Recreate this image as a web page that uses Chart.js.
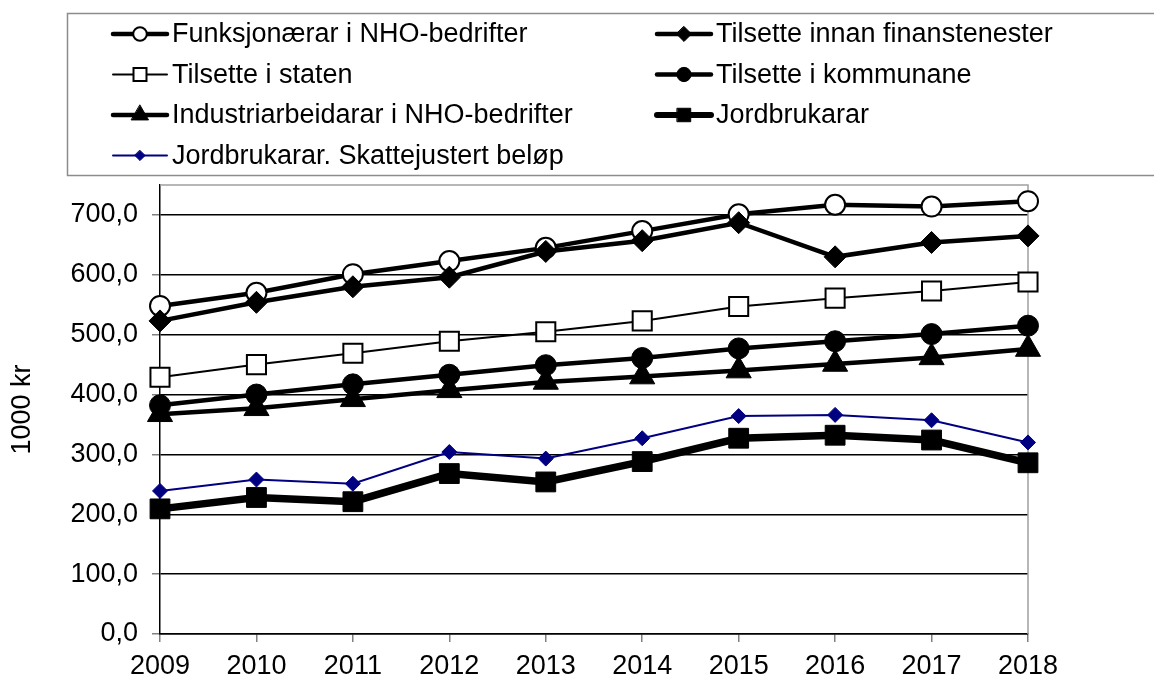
<!DOCTYPE html>
<html>
<head>
<meta charset="utf-8">
<script src="https://cdn.jsdelivr.net/npm/chart.js@4/dist/chart.umd.min.js"></script>
<style>
html,body{margin:0;padding:0;background:#fff;}
#wrap{position:relative;width:1154px;height:680px;}
</style>
</head>
<body>
<div id="wrap"><canvas id="lonnChart" width="1154" height="680"></canvas></div>
<script>
// data (1000 kr)
const years = ["2009","2010","2011","2012","2013","2014","2015","2016","2017","2018"];
const funksjonaerar = [548,570,601,623,645,673,701,717,714,723];
const finans = [523,554,580,596,639,657,687,630,654,665];
const staten = [429,450,469,489,505,523,547,561,573,588];
const kommunane = [382,400,417,433,449,461,477,489,501,515];
const industri = [367,377,392,407,421,430,440,451,462,476];
const jordbruk = [209,228,221,268,254,288,327,332,324,286];
const jordbrukSkatt = [239,258,251,304,293,327,364,366,357,320];
const yTicks = [0,100,200,300,400,500,600,700];

const FONT = "'Liberation Sans', Arial, sans-serif";
const FS = 27;

function series(label, data, o) {
  return {
    label: label,
    data: data,
    borderColor: o.color || "#000",
    borderWidth: o.lw,
    pointStyle: o.style,
    pointRadius: o.r,
    pointHoverRadius: o.r,
    pointBackgroundColor: o.fill,
    pointBorderColor: o.color || "#000",
    pointBorderWidth: o.bw,
    tension: 0,
    clip: false,
    fill: false
  };
}

const datasets = [
  series("Funksjonærar i NHO-bedrifter", funksjonaerar, {lw: 4.5, style: "circle", r: 10, fill: "#fff", bw: 2}),
  series("Tilsette innan finanstenester", finans, {lw: 4.5, style: "rectRot", r: 11, fill: "#000", bw: 1}),
  series("Tilsette i staten", staten, {lw: 2, style: "rect", r: 13.5, fill: "#fff", bw: 2}),
  series("Tilsette i kommunane", kommunane, {lw: 4.5, style: "circle", r: 10.5, fill: "#000", bw: 1}),
  series("Industriarbeidarar i NHO-bedrifter", industri, {lw: 4.5, style: "triangle", r: 14.5, fill: "#000", bw: 1}),
  series("Jordbrukarar", jordbruk, {lw: 7.5, style: "rect", r: 14, fill: "#000", bw: 1}),
  series("Jordbrukarar. Skattejustert beløp", jordbrukSkatt, {lw: 2, style: "rectRot", r: 7.5, fill: "#000080", bw: 1, color: "#000080"})
];
// later series on top, like the original
datasets.forEach((d, i) => { d.order = datasets.length - i; });

function drawMarker(ctx, style, x, y, r, fill, stroke, bw) {
  ctx.beginPath();
  if (style === "circle") {
    ctx.arc(x, y, r, 0, Math.PI * 2);
  } else if (style === "rect") {
    const s = r * Math.SQRT1_2;
    ctx.rect(x - s, y - s, 2 * s, 2 * s);
  } else if (style === "rectRot") {
    ctx.moveTo(x, y - r); ctx.lineTo(x + r, y); ctx.lineTo(x, y + r); ctx.lineTo(x - r, y);
    ctx.closePath();
  } else if (style === "triangle") {
    ctx.moveTo(x, y - r);
    ctx.lineTo(x + r * Math.sin(Math.PI * 2 / 3), y - r * Math.cos(Math.PI * 2 / 3));
    ctx.lineTo(x + r * Math.sin(Math.PI * 4 / 3), y - r * Math.cos(Math.PI * 4 / 3));
    ctx.closePath();
  }
  ctx.fillStyle = fill;
  ctx.fill();
  if (bw) { ctx.lineWidth = bw; ctx.strokeStyle = stroke; ctx.stroke(); }
}

// two-column legend in a grey box above the plot
const legendBox = {
  id: "legendBox",
  afterDraw(chart) {
    const ctx = chart.ctx;
    ctx.save();
    ctx.strokeStyle = "#8c8c8c";
    ctx.lineWidth = 1.5;
    ctx.strokeRect(67.5, 13.5, 1200, 162);
    const colX = [113, 657];
    const rowY = [34, 74.5, 115, 155.5];
    ctx.font = FS + "px " + FONT;
    ctx.textBaseline = "middle";
    ctx.textAlign = "left";
    chart.data.datasets.forEach((d, i) => {
      const x = colX[i % 2], y = rowY[Math.floor(i / 2)];
      ctx.beginPath();
      ctx.moveTo(x, y); ctx.lineTo(x + 54, y);
      ctx.lineWidth = Math.min(d.borderWidth, 6);
      ctx.strokeStyle = d.borderColor;
      ctx.lineCap = "round";
      ctx.stroke();
      drawMarker(ctx, d.pointStyle, x + 27, y, d.pointRadius * 0.68, d.pointBackgroundColor, d.pointBorderColor, d.pointBorderWidth);
      ctx.fillStyle = "#000";
      ctx.fillText(d.label, x + 59, y + 1);
    });
    ctx.restore();
  }
};

// grey plot-area frame on top and right
const plotFrame = {
  id: "plotFrame",
  beforeDatasetsDraw(chart) {
    const a = chart.chartArea, ctx = chart.ctx;
    ctx.save();
    ctx.strokeStyle = "#a0a0a0";
    ctx.lineWidth = 1.5;
    ctx.beginPath();
    ctx.moveTo(a.left, a.top); ctx.lineTo(a.right, a.top); ctx.lineTo(a.right, a.bottom);
    ctx.stroke();
    ctx.restore();
  }
};

new Chart(document.getElementById("lonnChart"), {
  type: "line",
  data: { labels: years, datasets: datasets },
  options: {
    responsive: false,
    animation: false,
    devicePixelRatio: 1,
    layout: { padding: { top: 185, left: 0, right: 126, bottom: 0 } },
    plugins: { legend: { display: false }, tooltip: { enabled: false } },
    scales: {
      x: {
        offset: false,
        afterFit: s => { s.height = 46; },
        grid: { drawOnChartArea: false, tickLength: 8, color: "#808080", lineWidth: 1.5 },
        border: { color: "#000", width: 1.5 },
        ticks: { color: "#000", font: { family: FONT, size: FS }, padding: 8, maxRotation: 0, autoSkip: false }
      },
      y: {
        min: 0,
        max: 750,
        afterFit: s => { s.width = 160; },
        afterBuildTicks: s => { s.ticks = yTicks.map(v => ({ value: v })); },
        grid: { color: "#000", lineWidth: 1.5, tickColor: "#808080", tickWidth: 1.5, tickLength: 8 },
        border: { color: "#000", width: 1.5 },
        title: { display: true, text: "1000 kr", color: "#000", font: { family: FONT, size: FS }, padding: { top: 6, bottom: 0 } },
        ticks: { color: "#000", font: { family: FONT, size: FS }, padding: 14, callback: v => v.toFixed(1).replace(".", ",") }
      }
    }
  },
  plugins: [plotFrame, legendBox]
});
</script>
</body>
</html>
